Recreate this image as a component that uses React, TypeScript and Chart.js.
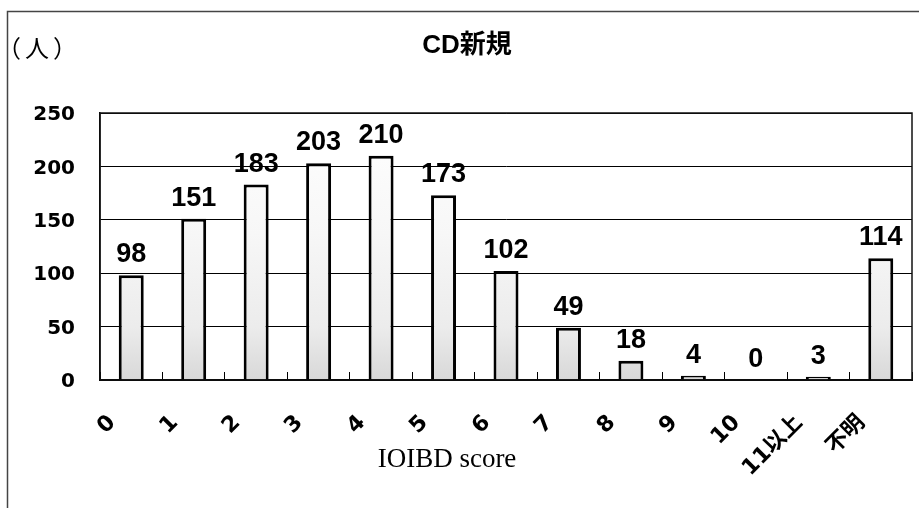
import React, { useEffect, useRef } from "react";
import { Chart, registerables } from "chart.js";

Chart.register(...registerables);

// ---- data ----
const categories = ["0", "1", "2", "3", "4", "5", "6", "7", "8", "9", "10", "11以上", "不明"];
const counts = [98, 151, 183, 203, 210, 173, 102, 49, 18, 4, 0, 3, 114];
const yTickValues = [0, 50, 100, 150, 200, 250];
const chartTitle = "CD新規";
const yUnitLabel = "（人）";
const xAxisTitle = "IOIBD score";

const TICK_FONT = "'DejaVu Sans', 'Noto Sans CJK JP', sans-serif";
const LABEL_FONT = "'Liberation Sans', 'Noto Sans CJK JP', sans-serif";

const decorPlugin = {
  id: "decor",
  beforeDraw(chart: any) {
    const { ctx, width, height } = chart;
    ctx.save();
    ctx.fillStyle = "#ffffff";
    ctx.fillRect(0, 0, width, height);
    // outer frame
    ctx.strokeStyle = "#444444";
    ctx.lineWidth = 1.5;
    ctx.strokeRect(7.5, 11.5, width + 20, height + 20);
    ctx.restore();
  },
  afterDatasetsDraw(chart: any) {
    const { ctx, chartArea } = chart;
    ctx.save();
    // plot frame
    ctx.strokeStyle = "#111111";
    ctx.lineWidth = 1.5;
    ctx.strokeRect(chartArea.left, chartArea.top, chartArea.right - chartArea.left, chartArea.bottom - chartArea.top);
    // value labels
    const meta = chart.getDatasetMeta(0);
    ctx.fillStyle = "#000000";
    ctx.font = `bold 27px ${LABEL_FONT}`;
    ctx.textAlign = "center";
    ctx.textBaseline = "alphabetic";
    meta.data.forEach((bar: any, i: number) => {
      const v = chart.data.datasets[0].data[i];
      ctx.fillText(String(v), bar.x, bar.y - 13);
    });
    ctx.restore();
  },
  afterDraw(chart: any) {
    const { ctx, chartArea } = chart;
    ctx.save();
    ctx.fillStyle = "#000000";
    // title
    ctx.font = `bold 26px ${LABEL_FONT}`;
    ctx.textAlign = "center";
    ctx.textBaseline = "alphabetic";
    ctx.fillText(chartTitle, (chartArea.left + chartArea.right) / 2 - 39, 53);
    // unit
    ctx.font = "24px 'Noto Sans CJK JP', sans-serif";
    ctx.textAlign = "left";
    ctx.textBaseline = "middle";
    try {
      (ctx as any).letterSpacing = "4px";
    } catch (e) {}
    ctx.fillText(yUnitLabel, -3, 48);
    try {
      (ctx as any).letterSpacing = "0px";
    } catch (e) {}
    // x axis title
    ctx.font = "27px 'Liberation Serif', 'Times New Roman', serif";
    ctx.textAlign = "center";
    ctx.textBaseline = "alphabetic";
    ctx.fillText(xAxisTitle, (chartArea.left + chartArea.right) / 2 - 59, chartArea.bottom + 87);
    ctx.restore();
  },
};

export default function App() {
  const canvasRef = useRef<HTMLCanvasElement | null>(null);

  useEffect(() => {
    const canvas = canvasRef.current;
    if (!canvas) return;
    const chart = new Chart(canvas, {
      type: "bar",
      data: {
        labels: categories,
        datasets: [
          {
            data: counts,
            backgroundColor: (c: any) => {
              const area = c.chart.chartArea;
              if (!area) return "#ffffff";
              const g = c.chart.ctx.createLinearGradient(0, area.bottom, 0, area.top);
              g.addColorStop(0, "#d8d8d8");
              g.addColorStop(0.2, "#ececec");
              g.addColorStop(0.55, "#f7f7f7");
              g.addColorStop(1, "#ffffff");
              return g;
            },
            borderColor: "#000000",
            borderWidth: 3,
            borderSkipped: "bottom",
            categoryPercentage: 1,
            barPercentage: 0.4,
          },
        ],
      },
      options: {
        responsive: false,
        animation: false,
        devicePixelRatio: 1,
        layout: { padding: { left: 0, right: 7, top: 113, bottom: 0 } },
        plugins: {
          legend: { display: false },
          title: { display: false },
          tooltip: { enabled: false },
        },
        scales: {
          x: {
            type: "category",
            grid: {
              display: true,
              drawOnChartArea: false,
              drawTicks: true,
              tickLength: -8,
              color: "#000000",
              lineWidth: 1,
              offset: true,
            },
            border: { display: true, color: "#000000", width: 2 },
            ticks: {
              autoSkip: false,
              minRotation: 45,
              maxRotation: 45,
              labelOffset: -19,
              padding: 38,
              color: "#000000",
              font: { family: TICK_FONT, size: 22, weight: "bold" },
            },
            afterFit: (scale: any) => {
              scale.height = 128;
              scale.paddingLeft = 0;
              scale.paddingRight = 0;
            },
          },
          y: {
            min: yTickValues[0],
            max: yTickValues[yTickValues.length - 1],
            afterBuildTicks: (scale: any) => {
              scale.ticks = yTickValues.map((v) => ({ value: v }));
            },
            grid: { color: "#000000", lineWidth: 1, drawTicks: false },
            border: { display: true, color: "#000000", width: 1.5 },
            ticks: {
              padding: 25,
              labelOffset: 2,
              color: "#000000",
              font: { family: TICK_FONT, size: 20, weight: "bold" },
            },
            afterFit: (scale: any) => {
              scale.width = 100;
              scale.paddingTop = 0;
              scale.paddingBottom = 0;
            },
          },
        },
      },
      plugins: [decorPlugin],
    });
    return () => chart.destroy();
  }, []);

  return (
    <div style={{ position: "fixed", left: 0, top: 0, width: 919, height: 508, background: "#fff" }}>
      <canvas ref={canvasRef} width={919} height={508} style={{ display: "block", width: 919, height: 508 }} />
    </div>
  );
}
